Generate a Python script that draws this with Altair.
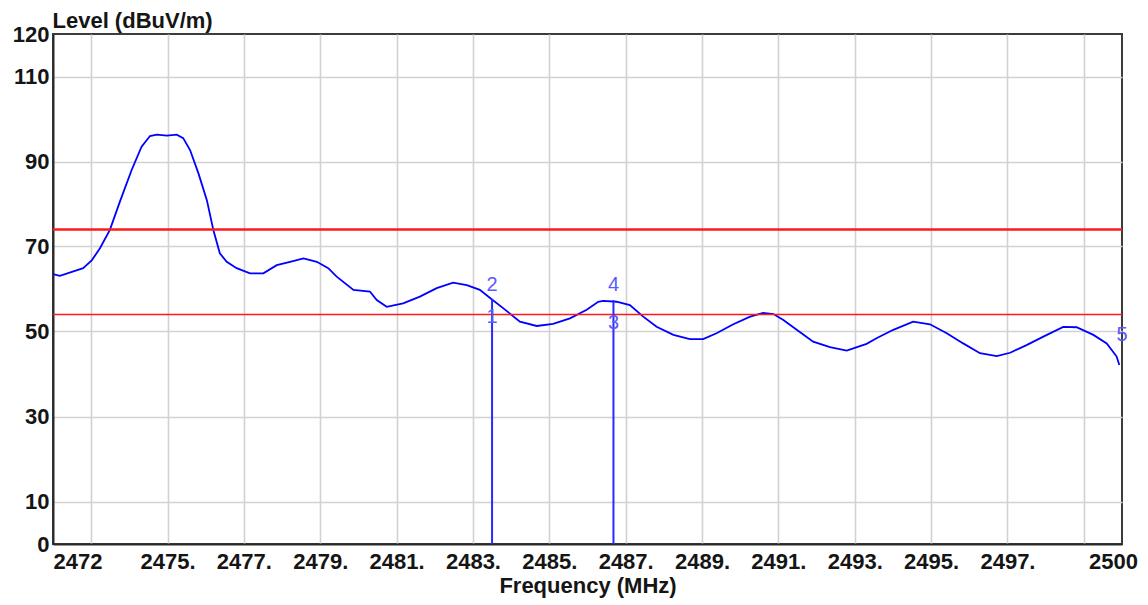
import altair as alt
import pandas as pd

# ---- trace ----
freq_mhz = [2472.00, 2472.18, 2472.79, 2473.02, 2473.23, 2473.49, 2473.75, 2474.06, 2474.32,
            2474.54, 2474.72, 2474.98, 2475.24, 2475.41, 2475.59, 2475.81, 2476.03, 2476.20,
            2476.37, 2476.55, 2476.81, 2477.16, 2477.51, 2477.86, 2478.21, 2478.56, 2478.91,
            2479.21, 2479.43, 2479.87, 2480.30, 2480.48, 2480.74, 2481.17, 2481.61, 2482.05,
            2482.48, 2482.84, 2483.18, 2483.49, 2483.79, 2484.23, 2484.67, 2485.10, 2485.54,
            2485.98, 2486.28, 2486.41, 2486.76, 2487.11, 2487.46, 2487.81, 2488.25, 2488.68,
            2489.03, 2489.38, 2489.82, 2490.26, 2490.60, 2490.87, 2491.13, 2491.48, 2491.91,
            2492.35, 2492.79, 2493.31, 2493.57, 2494.01, 2494.53, 2494.97, 2495.41, 2495.84,
            2496.28, 2496.72, 2497.07, 2497.50, 2497.94, 2498.46, 2498.81, 2499.25, 2499.60,
            2499.86, 2499.93]
level_dbuv = [63.5, 63.1, 64.9, 66.8, 69.6, 73.9, 80.5, 88.0, 93.5,
              96.0, 96.3, 96.1, 96.3, 95.5, 92.7, 87.2, 80.9, 73.9,
              68.4, 66.4, 64.9, 63.7, 63.7, 65.6, 66.4, 67.2, 66.4,
              64.9, 62.9, 59.8, 59.4, 57.4, 55.8, 56.6, 58.2, 60.2,
              61.5, 60.9, 59.8, 57.6, 55.5, 52.3, 51.3, 51.8, 53.1,
              55.1, 57.0, 57.2, 57.0, 56.2, 53.5, 51.1, 49.2, 48.2,
              48.2, 49.6, 51.7, 53.5, 54.4, 54.1, 52.7, 50.4, 47.6,
              46.3, 45.5, 47.1, 48.4, 50.4, 52.3, 51.7, 49.6, 47.2,
              44.9, 44.2, 45.0, 46.8, 48.8, 51.1, 51.0, 49.2, 47.2,
              44.1, 42.1]

# ---- limit lines ----
limit_levels = [74, 54]

# ---- markers ----
marker_line_freq = [2483.5, 2486.68]
marker_line_level = [57.6, 57.4]
marker_names = ["1", "2", "3", "4", "5"]
marker_freq = [2483.5, 2483.5, 2486.68, 2486.68, 2500.0]
marker_level = [53.4, 60.9, 51.9, 61.0, 49.2]

# ---- axis ticks ----
x_tick_values = [2472, 2473, 2475, 2477, 2479, 2481, 2483, 2485, 2487, 2489, 2491, 2493, 2495, 2497, 2499, 2500]
x_tick_labels = ["2472", "", "2475.", "2477.", "2479.", "2481.", "2483.", "2485.", "2487.", "2489.",
                 "2491.", "2493.", "2495.", "2497.", "", "2500"]
y_tick_values = [0, 10, 30, 50, 70, 90, 110, 120]
y_tick_labels = ["0", "10", "30", "50", "70", "90", "110", "120"]


def label_expr(values, labels):
    expr = "''"
    for v, l in reversed(list(zip(values, labels))):
        expr = f"datum.value == {v} ? '{l}' : ({expr})"
    return expr


trace_df = pd.DataFrame({"f": freq_mhz, "lvl": level_dbuv})
x_first, x_last = x_tick_values[0], x_tick_values[-1]
y_first, y_last = y_tick_values[0], y_tick_values[-1]

x_scale = alt.Scale(domain=[x_first, x_last], nice=False, zero=False)
y_scale = alt.Scale(domain=[y_first, y_last], nice=False, zero=False)

x_axis = alt.Axis(
    values=x_tick_values,
    labelExpr=label_expr(x_tick_values, x_tick_labels),
    title="Frequency (MHz)",
    grid=True,
    gridOpacity={"condition": {"test": f"datum.value == {x_first} || datum.value == {x_last}", "value": 0}, "value": 1},
    labelAlign={"condition": {"test": f"datum.value == {x_first}", "value": "left"}, "value": "center"},
    labelOffset={"condition": {"test": f"datum.value == {x_last}", "value": -9}, "value": 0},
    labelPadding=7,
    titlePadding=3,
    labelOverlap=False,
)
y_axis = alt.Axis(
    values=y_tick_values,
    labelExpr=label_expr(y_tick_values, y_tick_labels),
    title="Level (dBuV/m)",
    grid=True,
    gridOpacity={"condition": {"test": f"datum.value == {y_first} || datum.value == {y_last}", "value": 0}, "value": 1},
    titleAngle=0,
    titleAlign="left",
    titleBaseline="alphabetic",
    titleX=-1,
    titleY=-7,
    labelPadding=4,
    labelOverlap=False,
    labelBaseline="middle",
)

trace = alt.Chart(trace_df).mark_line(color="#0000ff", strokeWidth=1.8).encode(
    x=alt.X("f:Q", scale=x_scale, axis=x_axis),
    y=alt.Y("lvl:Q", scale=y_scale, axis=y_axis),
)

limit_hi = alt.Chart(pd.DataFrame({"lvl": [limit_levels[0]]})).mark_rule(
    color="#ff1a1a", strokeWidth=2.5
).encode(y=alt.Y("lvl:Q", scale=y_scale))
limit_lo = alt.Chart(pd.DataFrame({"lvl": [limit_levels[1]]})).mark_rule(
    color="#ff1a1a", strokeWidth=1.6
).encode(y=alt.Y("lvl:Q", scale=y_scale))

mline_df = pd.DataFrame({"f": marker_line_freq, "lvl": marker_line_level})
mlines = alt.Chart(mline_df).mark_rule(color="#2a2aff", strokeWidth=2).encode(
    x=alt.X("f:Q", scale=x_scale),
    y=alt.Y("lvl:Q", scale=y_scale),
    y2=alt.datum(0),
)

mtext_df = pd.DataFrame({"name": marker_names, "f": marker_freq, "lvl": marker_level})
mtext = alt.Chart(mtext_df).mark_text(
    color="#5a5aff", fontSize=20, font="Liberation Sans", align="center", baseline="middle"
).encode(
    x=alt.X("f:Q", scale=x_scale),
    y=alt.Y("lvl:Q", scale=y_scale),
    text="name:N",
)

chart = alt.layer(trace, limit_hi, limit_lo, mlines, mtext).properties(
    width=1069, height=510,
    autosize=alt.AutoSizeParams(type="none"),
    padding={"left": 45, "top": 26, "right": 16, "bottom": 57},
    background="white",
).configure_view(
    stroke="#3c3c3c", strokeWidth=2
).configure_axis(
    labelFont="Liberation Sans", labelFontWeight="bold", labelFontSize=22, labelColor="#151515",
    titleFont="Liberation Sans", titleFontWeight="bold", titleFontSize=22, titleColor="#151515",
    gridColor="#d2d2d2", gridWidth=1.6,
    domainColor="#2a2a2a", domainWidth=2,
    ticks=False,
)

chart.save("out.html", embed_options={"renderer": "svg", "actions": False})
